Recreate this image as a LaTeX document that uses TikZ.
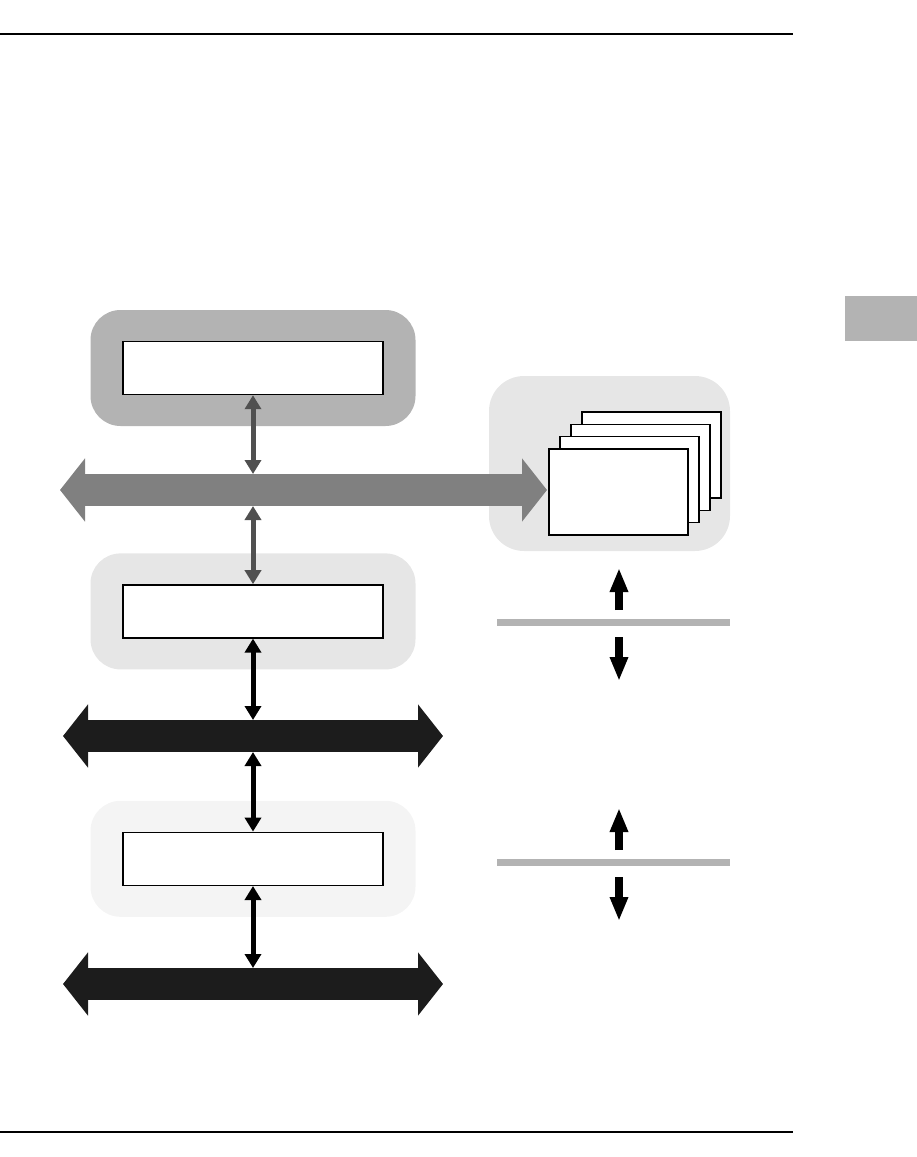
\documentclass[tikz,border=0pt]{standalone}
\usetikzlibrary{arrows.meta,positioning}
\definecolor{hostgray}{HTML}{B3B3B3}
\definecolor{sysgray}{HTML}{808080}
\definecolor{linkgray}{HTML}{505050}
\definecolor{palegray}{HTML}{E6E6E6}
\definecolor{faintgray}{HTML}{F4F4F4}
\definecolor{busblack}{HTML}{1C1C1C}
\begin{document}
\begin{tikzpicture}[x=1pt,y=-1pt,
  panel/.style={rounded corners=30pt,minimum width=325pt,minimum height=116pt,inner sep=0pt},
  unitbox/.style={draw,line width=1.4pt,fill=white,minimum width=260pt,minimum height=53pt,inner sep=0pt},
  card/.style={draw,line width=1.5pt,fill=white},
  bus/.style={line width=32pt,{Triangle[length=25pt,width=62pt]}-{Triangle[length=25pt,width=62pt]}},
  link/.style={line width=5pt,{Triangle[length=14pt,width=16pt]}-{Triangle[length=14pt,width=16pt]}},
  updown/.style={line width=8pt,-{Triangle[length=24pt,width=17pt]}},
  divider/.style={hostgray,line width=7pt}]
  \useasboundingbox (0,0) rectangle (917,1157);
  % page rules and tab
  \draw[line width=1.5pt] (0,34) -- (793,34);
  \draw[line width=1.5pt] (0,1132) -- (793,1132);
  \fill[hostgray] (845,296) rectangle (917,341);
  % left column
  \node[panel,fill=hostgray] (hostpanel) at (253,368) {};
  \node[panel,fill=palegray,below=127pt of hostpanel] (localpanel) {};
  \node[panel,fill=faintgray,below=131pt of localpanel] (devpanel) {};
  \node[unitbox] (hostbox) at (hostpanel) {};
  \node[unitbox] (localbox) at (localpanel) {};
  \node[unitbox] (devbox) at (devpanel) {};
  % right panel with stacked cards
  \fill[palegray,rounded corners=35pt] (489,376) rectangle (730,551);
  \foreach \i in {3,2,1,0}
    \draw[card] (549+11*\i,449-12.3*\i) rectangle ++(139,86);
  % buses
  \draw[bus,sysgray] (60,490) -- (547,490);
  \draw[bus,busblack] (63,736) -- (443,736);
  \draw[bus,busblack] (63,984) -- (443,984);
  \coordinate (sysbusN) at (253,474);
  \coordinate (sysbusS) at (253,506);
  \coordinate (localbusN) at (253,720);
  \coordinate (localbusS) at (253,752);
  \coordinate (devbusN) at (253,968);
  % links
  \draw[link,linkgray] (hostbox.south) -- (sysbusN);
  \draw[link,linkgray] (sysbusS) -- (localbox.north);
  \draw[link] (localbox.south) -- (localbusN);
  \draw[link] (localbusS) -- (devbox.north);
  \draw[link] (devbox.south) -- (devbusN);
  % dividers
  \foreach \y in {0,240} {
    \draw[divider] (497,622+\y) -- (730,622+\y);
    \draw[updown] (619,610+\y) -- (619,568+\y);
    \draw[updown] (619,637+\y) -- (619,681+\y);
  }
\end{tikzpicture}
\end{document}
